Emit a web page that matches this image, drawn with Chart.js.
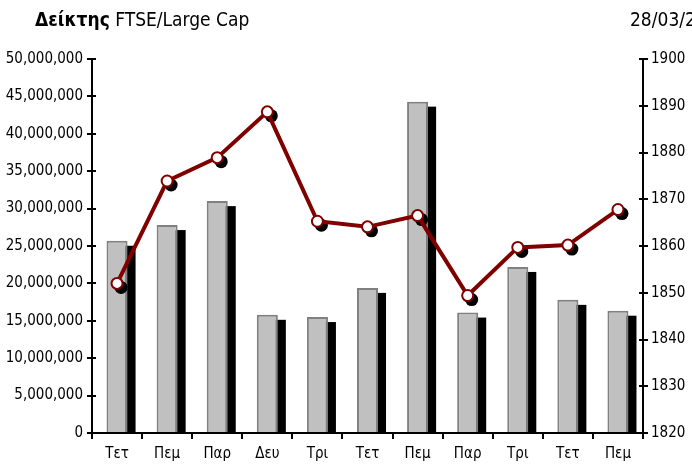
<!DOCTYPE html>
<html>
<head>
<meta charset="UTF-8">
<title>FTSE/Large Cap</title>
<script src="https://cdn.jsdelivr.net/npm/chart.js@4.4.1/dist/chart.umd.min.js"></script>
<style>
  body { margin: 0; padding: 0; background: #fff; overflow: hidden; }
  #wrap { position: relative; width: 692px; height: 464px; }
  #title { position: absolute; left: 35px; top: 8px; font-family: "DejaVu Sans Condensed", "Liberation Sans", sans-serif; font-size: 19px; color: #000; white-space: nowrap; }
  #title b { font-weight: bold; }
  #date { position: absolute; left: 630px; top: 8px; font-family: "DejaVu Sans Condensed", "Liberation Sans", sans-serif; font-size: 19px; color: #000; white-space: nowrap; }
</style>
</head>
<body>
<div id="wrap">
  <canvas id="chart" width="692" height="464"></canvas>
  <div id="title"><b>Δείκτης</b> FTSE/Large Cap</div>
  <div id="date">28/03/2</div>
</div>
<script>
// days (greek abbreviations) as on the x axis
var days   = ['Τετ', 'Πεμ', 'Παρ', 'Δευ', 'Τρι', 'Τετ', 'Πεμ', 'Παρ', 'Τρι', 'Τετ', 'Πεμ'];
// traded value (left axis)
var volume = [25700000, 27800000, 31000000, 15800000, 15500000, 19400000, 44300000, 16100000, 22200000, 17800000, 16350000];
// index close (right axis)
var index  = [1852.0, 1873.9, 1878.9, 1888.7, 1865.3, 1864.1, 1866.5, 1849.4, 1859.7, 1860.2, 1867.8];

var leftTicks  = { min: 0, max: 50000000, step: 5000000 };
var rightTicks = { min: 1820, max: 1900, step: 10 };

var FONT = '"DejaVu Sans Condensed", "Liberation Sans", sans-serif';

function withCommas(v) {
    return String(v).replace(/\B(?=(\d{3})+(?!\d))/g, ',');
}

// black drop shadows behind bars and markers
var shadowPlugin = {
    id: 'shadows',
    beforeDatasetDraw: function (chart, args) {
        var ctx  = chart.ctx;
        var meta = args.meta;
        ctx.save();
        ctx.fillStyle = '#000';
        if (meta.type === 'bar') {
            meta.data.forEach(function (b) {
                var p = b.getProps(['x', 'y', 'base', 'width'], true);
                ctx.fillRect(p.x - p.width / 2 + 8, p.y + 5, p.width, p.base - p.y - 5);
            });
        } else if (meta.type === 'line') {
            meta.data.forEach(function (pt) {
                ctx.beginPath();
                ctx.arc(pt.x + 4, pt.y + 4, 6.5, 0, Math.PI * 2);
                ctx.fill();
            });
        }
        ctx.restore();
    }
};

// inner half of the cross ticks on both value axes
var crossTicks = {
    id: 'crossTicks',
    afterDraw: function (chart) {
        var ctx = chart.ctx;
        var area = chart.chartArea;
        ctx.save();
        ctx.strokeStyle = '#000';
        ctx.lineWidth = 2;
        ['y', 'y1'].forEach(function (id) {
            var s = chart.scales[id];
            s.ticks.forEach(function (t, i) {
                var py = Math.round(s.getPixelForTick(i));
                ctx.beginPath();
                if (id === 'y') { ctx.moveTo(area.left, py); ctx.lineTo(area.left + 4, py); }
                else            { ctx.moveTo(area.right, py); ctx.lineTo(area.right - 4, py); }
                ctx.stroke();
            });
        });
        ctx.restore();
    }
};

new Chart(document.getElementById('chart'), {
    data: {
        labels: days,
        datasets: [
            {
                type: 'line',
                data: index,
                yAxisID: 'y1',
                order: 0,
                borderColor: '#800000',
                borderWidth: 4,
                pointRadius: 5.5,
                pointBorderWidth: 2,
                pointBackgroundColor: '#fff',
                pointBorderColor: '#800000',
                tension: 0
            },
            {
                type: 'bar',
                data: volume,
                yAxisID: 'y',
                order: 1,
                backgroundColor: '#c0c0c0',
                borderColor: '#808080',
                borderWidth: 2,
                borderSkipped: 'bottom',
                barPercentage: 0.42,
                categoryPercentage: 1
            }
        ]
    },
    options: {
        responsive: false,
        animation: false,
        layout: { padding: { top: 59, left: 0, right: 0, bottom: 0 } },
        plugins: { legend: { display: false }, tooltip: { enabled: false } },
        scales: {
            x: {
                offset: true,
                grid: { display: true, drawOnChartArea: false, drawTicks: true, tickLength: 6, color: '#000', lineWidth: 2, offset: true },
                border: { color: '#000', width: 2 },
                ticks: { color: '#000', font: { family: FONT, size: 15 }, padding: 6, maxRotation: 0 },
                afterFit: function (s) { s.height = 31; }
            },
            y: {
                position: 'left',
                min: leftTicks.min,
                max: leftTicks.max,
                grid: { display: true, drawOnChartArea: false, drawTicks: true, tickLength: 5, color: '#000', lineWidth: 2 },
                border: { color: '#000', width: 2 },
                ticks: { stepSize: leftTicks.step, color: '#000', font: { family: FONT, size: 15 }, padding: 4, callback: function (v) { return withCommas(v); } },
                afterFit: function (s) { s.width = 92; }
            },
            y1: {
                position: 'right',
                min: rightTicks.min,
                max: rightTicks.max,
                grid: { display: true, drawOnChartArea: false, drawTicks: true, tickLength: 5, color: '#000', lineWidth: 2 },
                border: { color: '#000', width: 2 },
                ticks: { stepSize: rightTicks.step, color: '#000', font: { family: FONT, size: 15 }, padding: 3, callback: function (v) { return String(v); } },
                afterFit: function (s) { s.width = 49; }
            }
        }
    },
    plugins: [shadowPlugin, crossTicks]
});
</script>
</body>
</html>
